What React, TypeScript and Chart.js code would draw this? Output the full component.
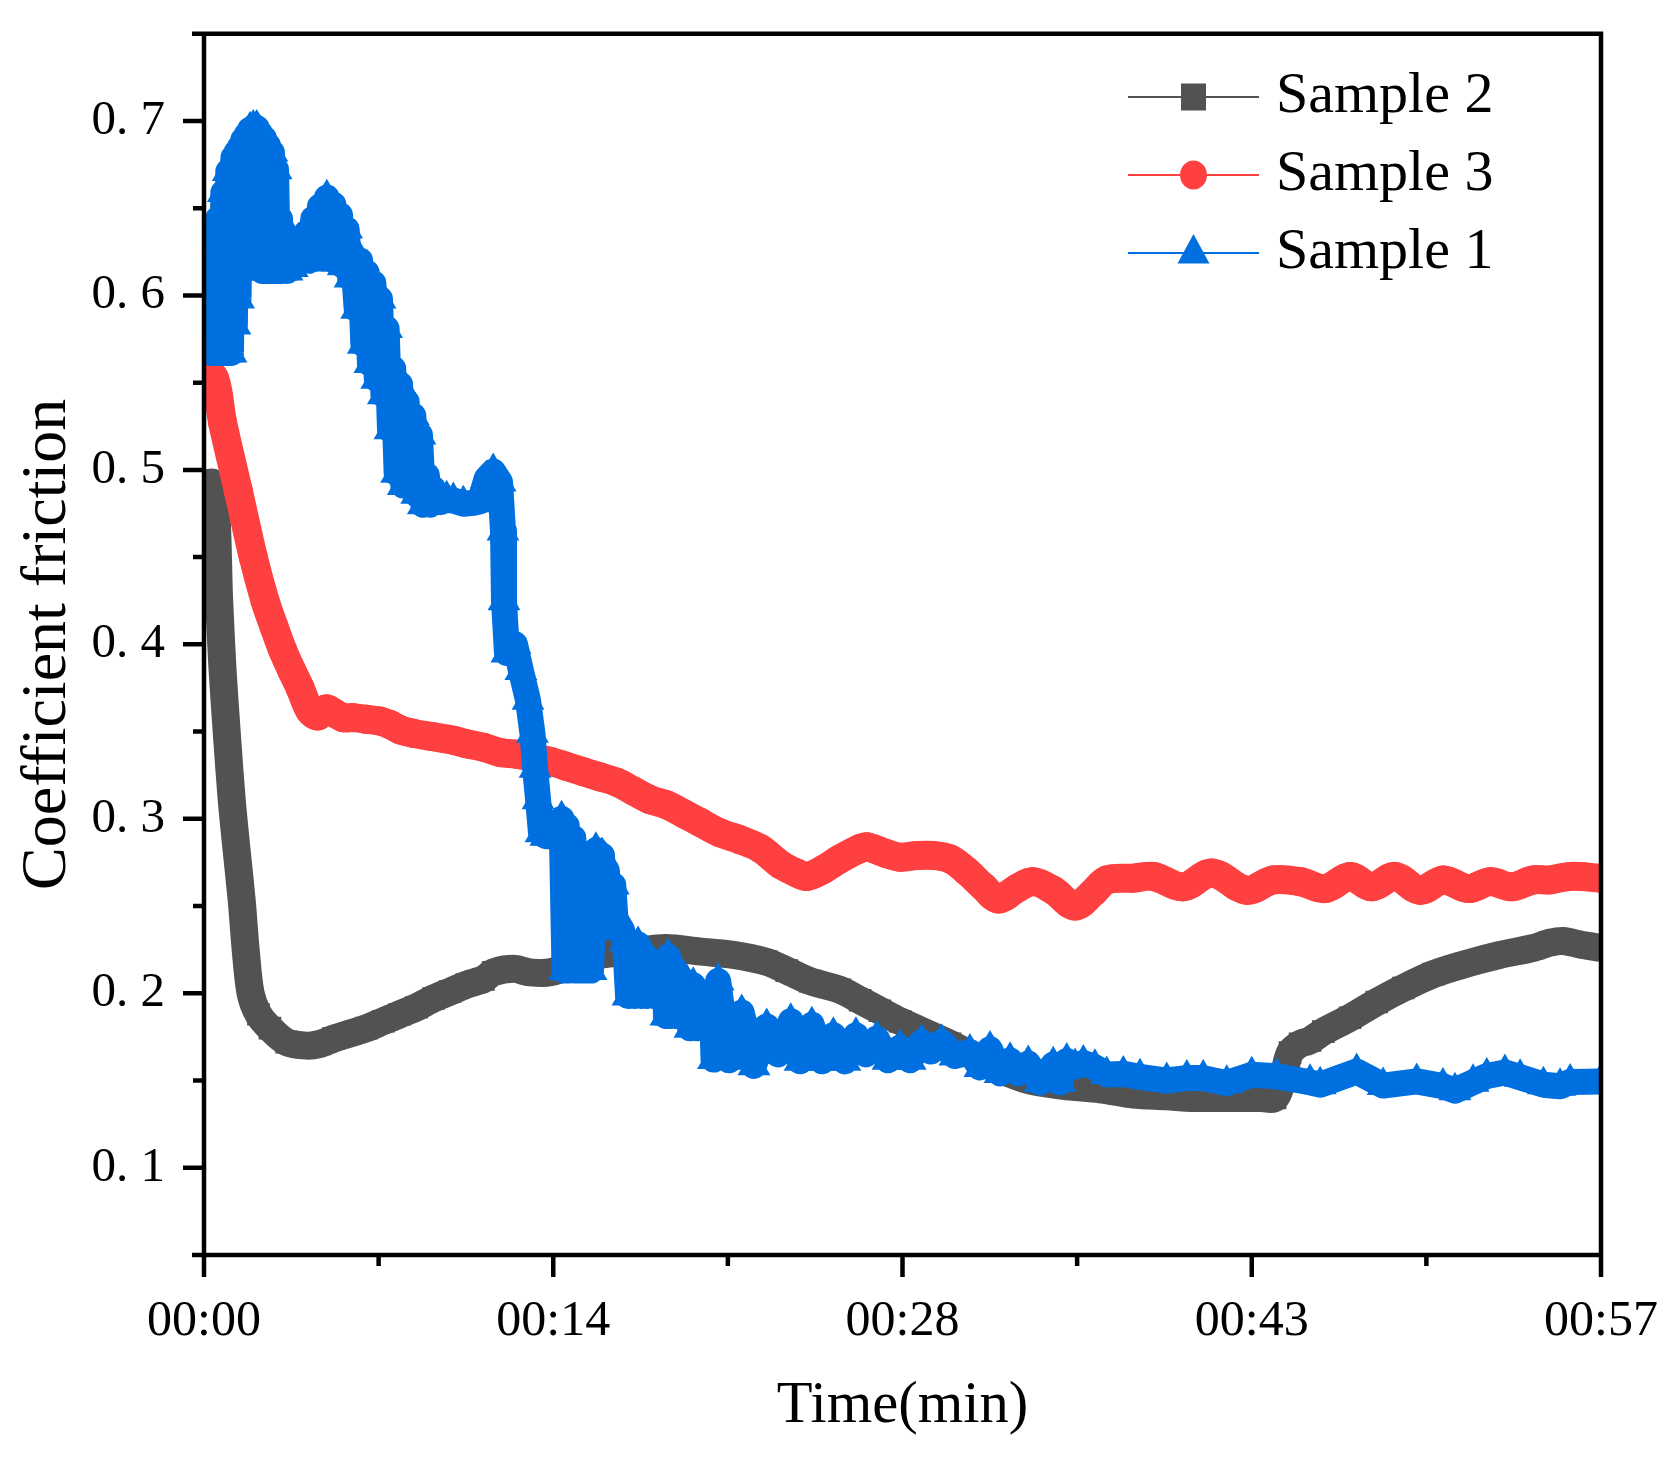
import { useEffect, useRef } from "react"
import { Chart, registerables } from "chart.js"

Chart.register(...registerables)

// eixos
const xTickValues = [0, 14.25, 28.5, 42.75, 57]
const xTickLabels = ["00:00", "00:14", "00:28", "00:43", "00:57"]
const xMinorTicks = [7.125, 21.375, 35.625, 49.875]
const yTickValues = [0.1, 0.2, 0.3, 0.4, 0.5, 0.6, 0.7]
const yTickLabels = ["0. 1", "0. 2", "0. 3", "0. 4", "0. 5", "0. 6", "0. 7"]
const yMinorTicks = [0.15, 0.25, 0.35, 0.45, 0.55, 0.65]

// [tempo (min), coeficiente]
const sample2: [number, number][] = [
  [0, 0.492], [0.41, 0.492], [0.62, 0.425], [0.75, 0.387], [0.93, 0.349], [1.13, 0.311],
  [1.33, 0.282], [1.54, 0.253], [1.7, 0.225], [1.9, 0.2], [2.22, 0.188], [2.69, 0.18],
  [3.37, 0.172], [4.19, 0.17], [4.73, 0.171], [5.28, 0.174], [5.96, 0.177], [6.64, 0.18],
  [7.32, 0.184], [8.0, 0.188], [8.68, 0.192], [9.36, 0.197], [10.04, 0.201], [10.72, 0.205],
  [11.4, 0.208], [11.8, 0.212], [12.62, 0.214], [13.3, 0.212], [14.12, 0.212], [15.14, 0.217],
  [16.16, 0.222], [17.5, 0.224], [18.85, 0.226], [20.2, 0.224], [21.6, 0.222], [22.96, 0.218],
  [23.78, 0.213], [24.73, 0.207], [25.95, 0.202], [26.77, 0.196], [27.58, 0.19], [28.4, 0.184],
  [30.44, 0.171], [31.8, 0.161], [32.34, 0.157], [33.7, 0.15], [35.06, 0.147], [36.56, 0.145],
  [37.92, 0.142], [39.28, 0.141], [40.37, 0.14], [41.7, 0.14], [43.09, 0.14], [43.7, 0.14],
  [44.03, 0.152], [44.31, 0.166], [44.72, 0.171], [45.13, 0.173], [45.67, 0.178], [46.76, 0.186],
  [47.85, 0.195], [48.93, 0.203], [50.16, 0.211], [51.52, 0.217], [52.88, 0.222], [54.24, 0.226],
  [54.92, 0.229], [55.46, 0.23], [56.14, 0.228], [57.0, 0.226],
]

const sample3: [number, number][] = [
  [0, 0.547], [0.41, 0.553], [0.76, 0.527], [1.4, 0.488], [2.01, 0.45], [2.49, 0.425],
  [2.86, 0.41], [3.2, 0.397], [3.58, 0.385], [3.92, 0.375], [4.32, 0.362], [4.65, 0.359],
  [4.98, 0.363], [5.28, 0.361], [5.68, 0.358], [6.09, 0.358], [6.64, 0.357], [7.18, 0.356],
  [7.59, 0.354], [8.0, 0.351], [8.54, 0.349], [9.36, 0.347], [10.17, 0.345], [10.72, 0.343],
  [11.4, 0.341], [12.08, 0.338], [12.76, 0.337], [14.12, 0.333], [14.8, 0.33], [15.48, 0.327],
  [16.16, 0.324], [16.84, 0.321], [17.52, 0.316], [18.2, 0.311], [18.88, 0.308], [19.56, 0.303],
  [20.24, 0.298], [21.05, 0.292], [21.87, 0.288], [22.69, 0.283], [23.5, 0.274], [24.18, 0.269],
  [24.59, 0.267], [25.27, 0.271], [25.95, 0.277], [26.77, 0.283], [27.04, 0.284], [27.86, 0.28],
  [28.4, 0.278], [29.08, 0.279], [29.76, 0.279], [30.44, 0.277], [31.12, 0.27], [31.8, 0.261],
  [32.41, 0.254], [33.16, 0.26], [33.84, 0.264], [34.65, 0.259], [35.54, 0.25], [36.29, 0.258],
  [36.83, 0.265], [37.92, 0.266], [38.73, 0.267], [39.96, 0.261], [41.12, 0.269], [42.54, 0.259],
  [43.63, 0.265], [44.72, 0.264], [45.74, 0.26], [46.76, 0.267], [47.64, 0.261], [48.6, 0.267],
  [49.61, 0.259], [50.57, 0.265], [51.59, 0.26], [52.47, 0.264], [53.36, 0.261], [54.24, 0.265],
  [54.92, 0.265], [55.74, 0.267], [57.0, 0.266],
]

const sample1: [number, number][] = [
  [0, 0.567], [0.18, 0.59], [0.29, 0.567], [0.38, 0.619], [0.49, 0.567], [0.58, 0.644],
  [0.69, 0.567], [0.79, 0.659], [0.9, 0.567], [0.99, 0.671], [1.1, 0.567], [1.2, 0.679],
  [1.26, 0.583], [1.33, 0.682], [1.41, 0.598], [1.47, 0.685], [1.54, 0.615], [1.6, 0.689],
  [1.67, 0.633], [1.74, 0.692], [1.81, 0.645], [1.88, 0.695], [1.95, 0.644], [2.01, 0.696],
  [2.08, 0.633], [2.15, 0.696], [2.22, 0.622], [2.28, 0.693], [2.37, 0.614], [2.45, 0.69],
  [2.53, 0.614], [2.61, 0.686], [2.69, 0.614], [2.77, 0.682], [2.86, 0.614], [2.94, 0.672],
  [3.02, 0.614], [3.1, 0.644], [3.18, 0.614], [3.26, 0.627], [3.39, 0.614], [3.51, 0.626],
  [3.6, 0.616], [3.67, 0.629], [3.78, 0.618], [3.92, 0.623], [4.05, 0.62], [4.19, 0.636],
  [4.32, 0.62], [4.46, 0.644], [4.6, 0.621], [4.73, 0.651], [4.87, 0.624], [5.01, 0.656],
  [5.14, 0.622], [5.28, 0.652], [5.41, 0.619], [5.55, 0.646], [5.68, 0.617], [5.82, 0.638],
  [5.96, 0.61], [6.09, 0.62], [6.23, 0.592], [6.37, 0.62], [6.5, 0.572], [6.64, 0.613],
  [6.77, 0.561], [6.91, 0.607], [7.05, 0.552], [7.18, 0.598], [7.32, 0.543], [7.45, 0.581],
  [7.59, 0.523], [7.72, 0.558], [7.86, 0.498], [8.0, 0.549], [8.13, 0.491], [8.27, 0.539],
  [8.41, 0.491], [8.54, 0.531], [8.68, 0.486], [8.81, 0.52], [8.95, 0.48], [9.09, 0.497],
  [9.22, 0.48], [9.36, 0.489], [9.63, 0.4815], [9.9, 0.4835], [10.17, 0.4825], [10.58, 0.4806],
  [10.99, 0.4811], [11.26, 0.482], [11.53, 0.495], [11.8, 0.499], [12.08, 0.493], [12.2, 0.465],
  [12.24, 0.425], [12.36, 0.395], [12.69, 0.4], [12.93, 0.385], [13.22, 0.368], [13.4, 0.349],
  [13.51, 0.329], [13.63, 0.311], [13.75, 0.292], [13.95, 0.29], [14.16, 0.29], [14.36, 0.296],
  [14.59, 0.3], [14.71, 0.213], [14.8, 0.296], [14.91, 0.213], [15.07, 0.289], [15.18, 0.213],
  [15.27, 0.281], [15.38, 0.213], [15.48, 0.272], [15.59, 0.213], [15.69, 0.274], [15.79, 0.213],
  [15.99, 0.282], [16.14, 0.238], [16.24, 0.279], [16.34, 0.238], [16.44, 0.27], [16.57, 0.238],
  [16.7, 0.262], [16.81, 0.238], [16.9, 0.24], [17.06, 0.236], [17.18, 0.2295], [17.3, 0.1985],
  [17.45, 0.229], [17.59, 0.1985], [17.71, 0.228], [17.83, 0.1985], [17.97, 0.222], [18.08, 0.1985],
  [18.2, 0.217], [18.32, 0.1985], [18.47, 0.211], [18.61, 0.1985], [18.77, 0.216], [18.85, 0.187],
  [18.94, 0.221], [19.05, 0.187], [19.2, 0.214], [19.3, 0.187], [19.42, 0.208], [19.54, 0.187],
  [19.71, 0.206], [19.83, 0.18], [19.96, 0.2046], [20.12, 0.18], [20.24, 0.2], [20.36, 0.18],
  [20.51, 0.195], [20.6, 0.18], [20.71, 0.199], [20.79, 0.162], [20.98, 0.207], [21.42, 0.1616],
  [21.94, 0.189], [22.44, 0.1584], [22.96, 0.181], [23.42, 0.165], [23.94, 0.184], [24.32, 0.161],
  [24.8, 0.182], [25.22, 0.161], [25.68, 0.176], [26.15, 0.161], [26.6, 0.176], [27.01, 0.165],
  [27.45, 0.174], [27.91, 0.1616], [28.4, 0.169], [28.81, 0.1616], [29.28, 0.172], [29.66, 0.1666],
  [30.1, 0.172], [30.64, 0.1641], [31.25, 0.1664], [31.66, 0.1575], [32.07, 0.168], [32.48, 0.1541],
  [32.89, 0.1616], [33.21, 0.1541], [33.63, 0.1597], [34.11, 0.1489], [34.65, 0.1591], [34.93, 0.1489],
  [35.2, 0.1612], [35.54, 0.158], [35.88, 0.16], [36.35, 0.1576], [36.83, 0.1535], [37.51, 0.1538],
  [38.19, 0.1521], [39.28, 0.15], [40.1, 0.1514], [40.77, 0.1514], [41.73, 0.1485], [42.75, 0.1533],
  [43.77, 0.1524], [45.13, 0.149], [45.54, 0.1476], [47.03, 0.1552], [48.11, 0.1471], [49.48, 0.1495],
  [50.55, 0.1468], [51.04, 0.1442], [51.78, 0.149], [52.34, 0.1526], [53.08, 0.1546], [53.7, 0.1519],
  [54.65, 0.1476], [55.33, 0.1467], [55.74, 0.1492], [57.0, 0.1495],
]

const FONT = "'Liberation Serif', 'Times New Roman', serif"
const GRAY = "#525252"
const RED = "#ff4040"
const BLUE = "#0070e0"

// moldura, marcas menores e legenda no estilo Origin
const framePlugin = {
  id: "frame",
  afterDraw(chart: Chart) {
    const { ctx, chartArea: a } = chart
    const xs = chart.scales.x
    const ys = chart.scales.y
    ctx.save()
    ctx.strokeStyle = "#000"
    ctx.lineWidth = 4.5
    ctx.lineCap = "butt"
    ctx.beginPath()
    ctx.moveTo(a.left - 12, a.top)
    ctx.lineTo(a.right + 2, a.top)
    ctx.moveTo(a.left - 12, a.bottom)
    ctx.lineTo(a.right + 2, a.bottom)
    ctx.moveTo(a.left, a.top - 2)
    ctx.lineTo(a.left, a.bottom + 2)
    ctx.moveTo(a.right, a.top - 2)
    ctx.lineTo(a.right, a.bottom + 2)
    yTickValues.forEach((v) => {
      const py = ys.getPixelForValue(v)
      ctx.moveTo(a.left - 21, py)
      ctx.lineTo(a.left, py)
    })
    yMinorTicks.forEach((v) => {
      const py = ys.getPixelForValue(v)
      ctx.moveTo(a.left - 11, py)
      ctx.lineTo(a.left, py)
    })
    xTickValues.forEach((v) => {
      const px = xs.getPixelForValue(v)
      ctx.moveTo(px, a.bottom)
      ctx.lineTo(px, a.bottom + 22)
    })
    xMinorTicks.forEach((v) => {
      const px = xs.getPixelForValue(v)
      ctx.moveTo(px, a.bottom)
      ctx.lineTo(px, a.bottom + 11)
    })
    ctx.stroke()

    // legenda
    chart.data.datasets.forEach((ds: any, i: number) => {
      const cy = 97 + i * 78
      const cx = 1193.5
      ctx.strokeStyle = ds.borderColor
      ctx.fillStyle = ds.borderColor
      ctx.lineWidth = 2
      ctx.beginPath()
      ctx.moveTo(1128, cy)
      ctx.lineTo(1259, cy)
      ctx.stroke()
      ctx.beginPath()
      if (ds.pointStyle === "rect") {
        ctx.rect(cx - 12.5, cy - 13.5, 25, 27)
      } else if (ds.pointStyle === "circle") {
        ctx.ellipse(cx, cy, 13.5, 14.5, 0, 0, Math.PI * 2)
      } else {
        ctx.moveTo(cx, cy - 19)
        ctx.lineTo(cx + 16, cy + 10.5)
        ctx.lineTo(cx - 16, cy + 10.5)
        ctx.closePath()
      }
      ctx.fill()
      ctx.fillStyle = "#000"
      ctx.font = `58px ${FONT}`
      ctx.textAlign = "left"
      ctx.textBaseline = "middle"
      ctx.fillText(ds.label, 1276, cy)
    })
    ctx.restore()
  },
}

const toPoints = (rows: [number, number][]) => rows.map(([x, y]) => ({ x, y }))

// a área do gráfico é fixada pelo layout, sem folga extra dos rótulos
const noScalePadding = (scale: any) => {
  scale.paddingTop = 0
  scale.paddingBottom = 0
  scale.paddingLeft = 0
  scale.paddingRight = 0
}

export default function App() {
  const chartRef = useRef<HTMLCanvasElement>(null)
  const chartInstance = useRef<Chart | null>(null)

  useEffect(() => {
    if (!chartRef.current) return
    if (chartInstance.current) chartInstance.current.destroy()

    const ctx = chartRef.current.getContext("2d")
    if (!ctx) return

    chartInstance.current = new Chart(ctx, {
      type: "line",
      data: {
        datasets: [
          {
            label: "Sample 2",
            data: toPoints(sample2),
            borderColor: GRAY,
            backgroundColor: GRAY,
            pointBackgroundColor: GRAY,
            borderWidth: 28,
            borderJoinStyle: "round",
            borderCapStyle: "butt",
            pointStyle: "rect",
            pointRadius: 16,
            pointBorderWidth: 0,
            tension: 0.3,
            clip: 0,
            order: 3,
          },
          {
            label: "Sample 3",
            data: toPoints(sample3),
            borderColor: RED,
            backgroundColor: RED,
            pointBackgroundColor: RED,
            borderWidth: 29,
            borderJoinStyle: "round",
            borderCapStyle: "round",
            pointStyle: "circle",
            pointRadius: 14.5,
            pointBorderWidth: 0,
            tension: 0.35,
            clip: 0,
            order: 2,
          },
          {
            label: "Sample 1",
            data: toPoints(sample1),
            borderColor: BLUE,
            backgroundColor: BLUE,
            pointBackgroundColor: BLUE,
            borderWidth: 26,
            borderJoinStyle: "round",
            borderCapStyle: "butt",
            pointStyle: "triangle",
            pointRadius: 19,
            pointBorderWidth: 0,
            tension: 0,
            clip: 0,
            order: 1,
          },
        ] as any,
      },
      options: {
        responsive: true,
        maintainAspectRatio: false,
        animation: false,
        events: [],
        layout: { padding: { top: 33.7, right: 70, bottom: 0, left: 0 } },
        plugins: {
          legend: { display: false },
          tooltip: { enabled: false },
        },
        scales: {
          x: {
            type: "linear",
            min: 0,
            max: 57,
            afterBuildTicks: (scale: any) => {
              scale.ticks = xTickValues.map((value) => ({ value }))
            },
            afterFit: (scale: any) => {
              scale.height = 205
              noScalePadding(scale)
            },
            ticks: {
              callback: (_value: any, index: number) => xTickLabels[index],
              font: { family: FONT, size: 50 },
              color: "#000",
              padding: 37,
              maxRotation: 0,
              autoSkip: false,
            },
            grid: { display: false, drawTicks: false },
            border: { display: false },
            title: {
              display: true,
              text: "Time(min)",
              color: "#000",
              font: { family: FONT, size: 58.5 },
              padding: { top: 0, bottom: 17.9 },
            },
          },
          y: {
            type: "linear",
            min: 0.05,
            max: 0.75,
            afterBuildTicks: (scale: any) => {
              scale.ticks = yTickValues.map((value) => ({ value }))
            },
            afterFit: (scale: any) => {
              scale.width = 204
              noScalePadding(scale)
            },
            ticks: {
              callback: (_value: any, index: number) => yTickLabels[index],
              font: { family: FONT, size: 49 },
              color: "#000",
              padding: 39,
              autoSkip: false,
            },
            grid: { display: false, drawTicks: false },
            border: { display: false },
            title: {
              display: true,
              text: "Coefficient friction",
              color: "#000",
              font: { family: FONT, size: 64 },
              padding: { top: 10, bottom: 0 },
            },
          },
        },
      },
      plugins: [framePlugin],
    })

    return () => {
      if (chartInstance.current) {
        chartInstance.current.destroy()
        chartInstance.current = null
      }
    }
  }, [])

  return (
    <div style={{ position: "absolute", left: 0, top: 0, width: 1671, height: 1460, background: "#fff" }}>
      <canvas ref={chartRef} />
    </div>
  )
}
